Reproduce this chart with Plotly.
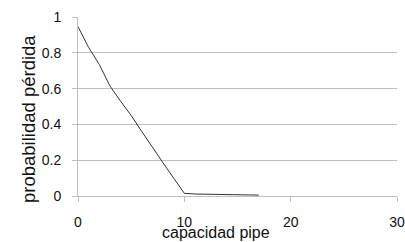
import plotly.graph_objects as go

capacidad = [0, 1, 2, 3, 4, 5, 6, 7, 8, 9, 10, 11, 12, 13, 14, 15, 16, 17]
probabilidad = [0.946, 0.83, 0.735, 0.615, 0.53, 0.45, 0.36, 0.27, 0.185, 0.1, 0.015,
                0.011, 0.01, 0.009, 0.008, 0.007, 0.006, 0.005]

x_ticks = [0, 10, 20, 30]
y_ticks = [0, 0.2, 0.4, 0.6, 0.8, 1]
y_tick_labels = ["0", "0.2", "0.4", "0.6", "0.8", "1"]

FONT = "Liberation Sans, Arial, sans-serif"
GRID = "#bfbfbf"

fig = go.Figure()
fig.add_trace(go.Scatter(
    x=capacidad, y=probabilidad, mode="lines",
    line=dict(color="#333333", width=1), showlegend=False, hoverinfo="skip",
))

fig.update_layout(
    width=405, height=242,
    margin=dict(l=78, r=8, t=17, b=46, autoexpand=False),
    paper_bgcolor="white", plot_bgcolor="white",
    font=dict(family=FONT, size=14, color="#111111"),
    xaxis=dict(
        range=[0, 30], tickvals=x_ticks, ticktext=[str(v) for v in x_ticks],
        showgrid=False, zeroline=False, showline=True, linecolor=GRID, linewidth=1,
        ticks="outside", ticklen=5, tickcolor=GRID, tickwidth=1,
        tickfont=dict(family=FONT, size=14, color="#111111"),
        ticklabelstandoff=8, automargin=False, ticklabeloverflow="allow",
    ),
    yaxis=dict(
        range=[0, 1], tickvals=y_ticks, ticktext=y_tick_labels,
        showgrid=True, gridcolor=GRID, gridwidth=1, zeroline=False,
        showline=True, linecolor=GRID, linewidth=1,
        ticks="outside", ticklen=5, tickcolor=GRID, tickwidth=1,
        tickfont=dict(family=FONT, size=14, color="#111111"),
        ticklabelstandoff=8, automargin=False,
    ),
    annotations=[
        dict(text="capacidad pipe", xref="paper", yref="paper",
             x=(216 - 78) / 319, y=(196 - 232) / 179, xanchor="center", yanchor="middle",
             showarrow=False, font=dict(family=FONT, size=16, color="#111111")),
        dict(text="probabilidad pérdida", xref="paper", yref="paper",
             x=(29 - 78) / 319, y=(196 - 119) / 179, xanchor="center", yanchor="middle",
             textangle=-90, showarrow=False, font=dict(family=FONT, size=18.5, color="#111111")),
    ],
)

fig.write_html(
    "out.html",
    config={"displayModeBar": False, "staticPlot": True},
    post_script="document.body.style.margin='0';document.body.style.overflow='hidden';",
)
